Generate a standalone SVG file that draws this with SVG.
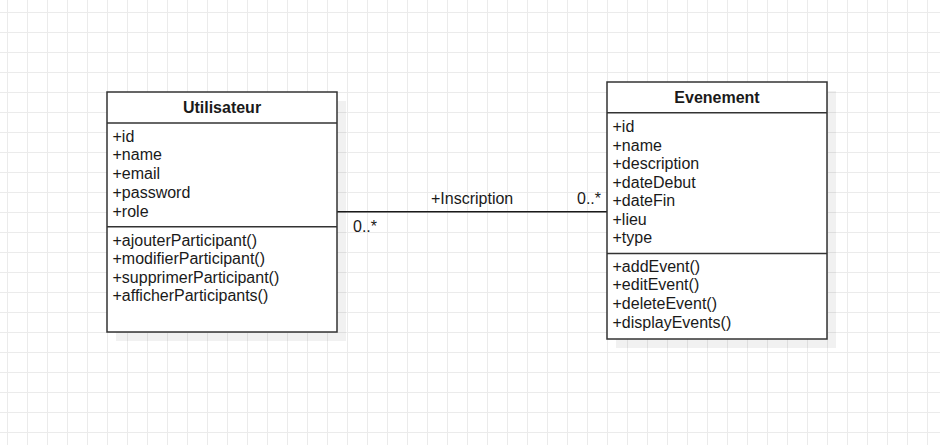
<svg xmlns="http://www.w3.org/2000/svg" width="940" height="445" viewBox="0 0 940 445">
  <defs>
    <pattern id="grid" x="7" y="12" width="20" height="20" patternUnits="userSpaceOnUse">
      <path d="M0 0 H20 M0 0 V20" fill="none" stroke="#ebebeb" stroke-width="2"/>
    </pattern>
    <style>
      .box { fill: #ffffff; stroke: #333333; stroke-width: 1.5; }
      .shadow { fill: #000000; fill-opacity: 0.055; }
      .sep { stroke: #333333; stroke-width: 1.5; }
      .title { font-family: "Liberation Sans", Arial, sans-serif; font-size: 16px; font-weight: bold; fill: #1a1a1a; text-anchor: middle; }
      .member { font-family: "Liberation Sans", Arial, sans-serif; font-size: 16px; fill: #1a1a1a; }
      .edge { fill: none; stroke: #1a1a1a; stroke-width: 1.4; }
      .label { font-family: "Liberation Sans", Arial, sans-serif; font-size: 16px; fill: #1a1a1a; }
    </style>
  </defs>

  <!-- background grid -->
  <rect width="940" height="445" fill="#ffffff"/>
  <rect width="940" height="445" fill="url(#grid)"/>

  <!-- association between the two classes -->
  <g id="connectors">
    <path class="edge" d="M337 211.8 L607 211.8"/>
    <text class="label" x="431" y="204">+Inscription</text>
    <text class="label" x="577" y="203.5">0..*</text>
    <text class="label" x="353" y="231.5">0..*</text>
  </g>

  <!-- class Utilisateur -->
  <g id="utilisateur">
    <rect class="shadow" x="116" y="101" width="230" height="240"/>
    <rect class="box" x="107" y="92" width="230" height="240"/>
    <line class="sep" x1="107" y1="123" x2="337" y2="123"/>
    <line class="sep" x1="107" y1="226.7" x2="337" y2="226.7"/>
    <text class="title" x="222" y="113.2">Utilisateur</text>
    <text class="member" x="112.5" y="141.7">+id</text>
    <text class="member" x="112.5" y="160.4">+name</text>
    <text class="member" x="112.5" y="179.1">+email</text>
    <text class="member" x="112.5" y="197.8">+password</text>
    <text class="member" x="112.5" y="216.5">+role</text>
    <text class="member" x="112.5" y="245.7">+ajouterParticipant()</text>
    <text class="member" x="112.5" y="264.3">+modifierParticipant()</text>
    <text class="member" x="112.5" y="282.8">+supprimerParticipant()</text>
    <text class="member" x="112.5" y="301.2">+afficherParticipants()</text>
  </g>

  <!-- class Evenement -->
  <g id="evenement">
    <rect class="shadow" x="616" y="91" width="220" height="257"/>
    <rect class="box" x="607" y="82" width="220" height="257"/>
    <line class="sep" x1="607" y1="112.7" x2="827" y2="112.7"/>
    <line class="sep" x1="607" y1="253.5" x2="827" y2="253.5"/>
    <text class="title" x="717" y="103.2">Evenement</text>
    <text class="member" x="612.5" y="132">+id</text>
    <text class="member" x="612.5" y="150.5">+name</text>
    <text class="member" x="612.5" y="169">+description</text>
    <text class="member" x="612.5" y="187.5">+dateDebut</text>
    <text class="member" x="612.5" y="206">+dateFin</text>
    <text class="member" x="612.5" y="224.5">+lieu</text>
    <text class="member" x="612.5" y="243">+type</text>
    <text class="member" x="612.5" y="271.7">+addEvent()</text>
    <text class="member" x="612.5" y="290.3">+editEvent()</text>
    <text class="member" x="612.5" y="308.9">+deleteEvent()</text>
    <text class="member" x="612.5" y="327.5">+displayEvents()</text>
  </g>
</svg>
